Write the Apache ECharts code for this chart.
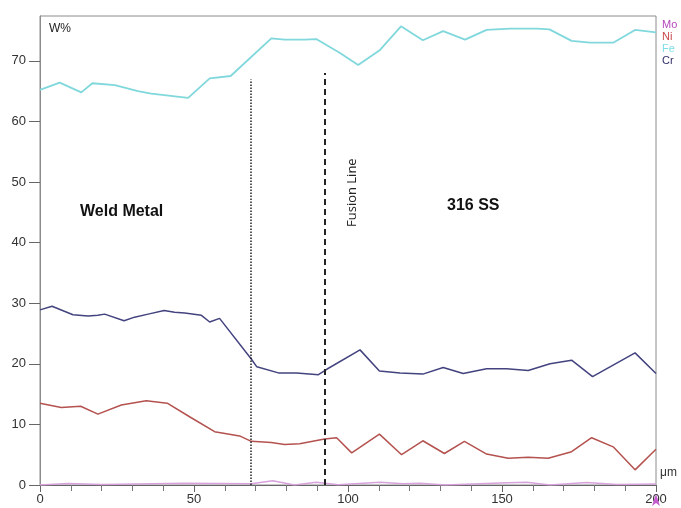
<!DOCTYPE html>
<html>
<head>
<meta charset="utf-8">
<script src="https://cdn.jsdelivr.net/npm/echarts@6/dist/echarts.min.js"></script>
<style>
  html, body { margin: 0; padding: 0; background: #fff; }
  #chart { width: 681px; height: 508px; }
</style>
</head>
<body>
<div id="chart"></div>
<script>
// positions in µm, concentration in wt%
var feX = [0, 6.4, 13.4, 17, 24.3, 31.8, 36.1, 48.1, 55.1, 61.9, 75.1, 79.4, 85.9, 89.7, 97.4, 103.3, 110.4, 117.2, 124.3, 130.9, 138, 145, 152.6, 161.3, 165.4, 172.6, 178.6, 186.1, 193.2, 200];
var feY = [65.2, 66.4, 64.8, 66.3, 66.0, 65.0, 64.6, 63.9, 67.1, 67.5, 73.7, 73.5, 73.5, 73.6, 71.3, 69.3, 71.8, 75.7, 73.4, 74.9, 73.5, 75.1, 75.3, 75.3, 75.2, 73.3, 73.0, 73.0, 75.1, 74.7];

var crX = [0, 3.9, 10.7, 15.6, 18.8, 21, 27.3, 30.7, 35.1, 40.3, 43.7, 47, 52.4, 55.1, 58.3, 68.6, 70.4, 77.4, 83.3, 90.4, 93.1, 103.9, 110.2, 116.9, 124.3, 130.9, 137.4, 145, 151.5, 158.5, 165.6, 172.6, 179.4, 193.2, 200];
var crY = [28.9, 29.5, 28.1, 27.9, 28.0, 28.2, 27.1, 27.7, 28.2, 28.8, 28.5, 28.4, 28.0, 26.9, 27.5, 20.8, 19.5, 18.5, 18.5, 18.2, 19.1, 22.3, 18.8, 18.5, 18.3, 19.4, 18.4, 19.2, 19.2, 18.9, 20.0, 20.6, 17.9, 21.8, 18.4];

var niX = [0, 6.9, 13.2, 18.8, 26.4, 34.5, 41.3, 49.1, 56.7, 64.8, 68.6, 75.1, 79.4, 84.3, 92.4, 96.3, 101.2, 110.2, 117.4, 124.3, 131.3, 137.8, 145, 152, 158.5, 165, 172.6, 179.1, 186.1, 193.2, 200];
var niY = [13.5, 12.8, 13.0, 11.7, 13.2, 13.9, 13.5, 11.1, 8.8, 8.1, 7.2, 7.0, 6.7, 6.8, 7.6, 7.8, 5.3, 8.4, 5.0, 7.3, 5.2, 7.2, 5.1, 4.4, 4.6, 4.4, 5.5, 7.8, 6.3, 2.5, 5.9];

var moX = [0, 9, 20, 47, 68.6, 75.6, 82.6, 89.7, 96.8, 110.4, 118, 123.4, 131.5, 149.4, 158, 165.6, 177.5, 187.2, 200];
var moY = [0, 0.25, 0.1, 0.3, 0.2, 0.7, 0, 0.45, 0.05, 0.45, 0.2, 0.3, 0, 0.35, 0.45, 0, 0.4, 0.1, 0.15];

var yTicks = [0, 10, 20, 30, 40, 50, 60, 70];
var boundaryX = [68.5, 92.5];   // dotted line, fusion line
var boundaryTop = [66.9, 68.0];

function pairs(xs, ys) {
    return xs.map(function (x, i) { return [x, ys[i]]; });
}

var chart = echarts.init(document.getElementById('chart'));

function line(name, xs, ys, color, width) {
    return {
        name: name,
        type: 'line',
        data: pairs(xs, ys),
        symbol: 'none',
        smooth: false,
        lineStyle: { color: color, width: width },
        itemStyle: { color: color },
        z: 3
    };
}

var series = [
    line('Mo', moX, moY, '#d8a2dc', 1.5),
    line('Ni', niX, niY, '#b4524f', 1.5),
    line('Fe', feX, feY, '#80d8dc', 1.8),
    line('Cr', crX, crY, '#43437f', 1.5)
];

// boundary lines
series[1].markLine = {
    silent: true,
    symbol: 'none',
    label: { show: false },
    data: [
        [{ coord: [boundaryX[0], 0], lineStyle: { type: 'dotted', color: '#222', width: 1.5 } },
         { coord: [boundaryX[0], boundaryTop[0]] }],
        [{ coord: [boundaryX[1], 0], lineStyle: { type: [6, 4], color: '#222', width: 2 } },
         { coord: [boundaryX[1], boundaryTop[1]] }]
    ]
};
series[0].markPoint = {
    silent: true,
    symbol: 'arrow',
    symbolSize: [6, 12],
    symbolOffset: [0, 9],
    itemStyle: { color: '#c45ccf' },
    label: { show: false },
    data: [{ coord: [200, 0] }]
};

chart.setOption({
    animation: false,
    backgroundColor: '#fff',
    textStyle: { fontFamily: 'Liberation Sans, Arial, sans-serif' },
    title: {
        text: 'W%',
        left: 44,
        top: 18,
        textStyle: { fontSize: 12, fontWeight: 'normal', color: '#222' }
    },
    legend: {
        orient: 'vertical',
        left: 652,
        top: 14,
        icon: 'none',
        itemWidth: 0,
        itemHeight: 10,
        itemGap: 1,
        selectedMode: false,
        textStyle: { fontSize: 11, lineHeight: 10, padding: 0 },
        data: [
            { name: 'Mo', textStyle: { color: '#b447bd' } },
            { name: 'Ni', textStyle: { color: '#c8494b' } },
            { name: 'Fe', textStyle: { color: '#7ee0e6' } },
            { name: 'Cr', textStyle: { color: '#2e2e66' } }
        ]
    },
    grid: {
        left: 40, right: 25, top: 16, bottom: 23,
        show: true,
        borderColor: '#8c8c8c',
        borderWidth: 1
    },
    xAxis: {
        type: 'value',
        min: 0,
        max: 200,
        interval: 50,
        name: 'μm',
        nameLocation: 'end',
        nameGap: 4,
        nameTextStyle: { fontSize: 12, color: '#333', verticalAlign: 'bottom', padding: [0, 0, 6, 0] },
        axisLine: { show: true, lineStyle: { color: '#666' } },
        axisTick: { show: true, inside: false, length: 7, lineStyle: { color: '#666' } },
        minorTick: { show: true, splitNumber: 5, length: 6, lineStyle: { color: '#777' } },
        splitLine: { show: false },
        axisLabel: { fontSize: 13, color: '#333', margin: 8 }
    },
    yAxis: {
        type: 'value',
        min: 0,
        max: 77.4,
        interval: 10,
        axisLine: { show: true, lineStyle: { color: '#8c8c8c' } },
        axisTick: { show: true, inside: false, length: 11, customValues: yTicks, lineStyle: { color: '#666' } },
        splitLine: { show: false },
        axisLabel: {
            fontSize: 13, color: '#333', margin: 14,
            customValues: yTicks
        }
    },
    graphic: [
        {
            type: 'text', left: 80, top: 204,
            style: { text: 'Weld Metal', font: 'bold 16px "Liberation Sans", Arial, sans-serif', fill: '#111' }
        },
        {
            type: 'text', left: 447, top: 198,
            style: { text: '316 SS', font: 'bold 16px "Liberation Sans", Arial, sans-serif', fill: '#111' }
        },
        {
            type: 'text', x: 346, y: 227, rotation: Math.PI / 2,
            style: { text: 'Fusion Line', font: '13px "Open Sans", "Liberation Sans", sans-serif', fill: '#222' }
        }
    ],
    series: series
});
</script>
</body>
</html>
